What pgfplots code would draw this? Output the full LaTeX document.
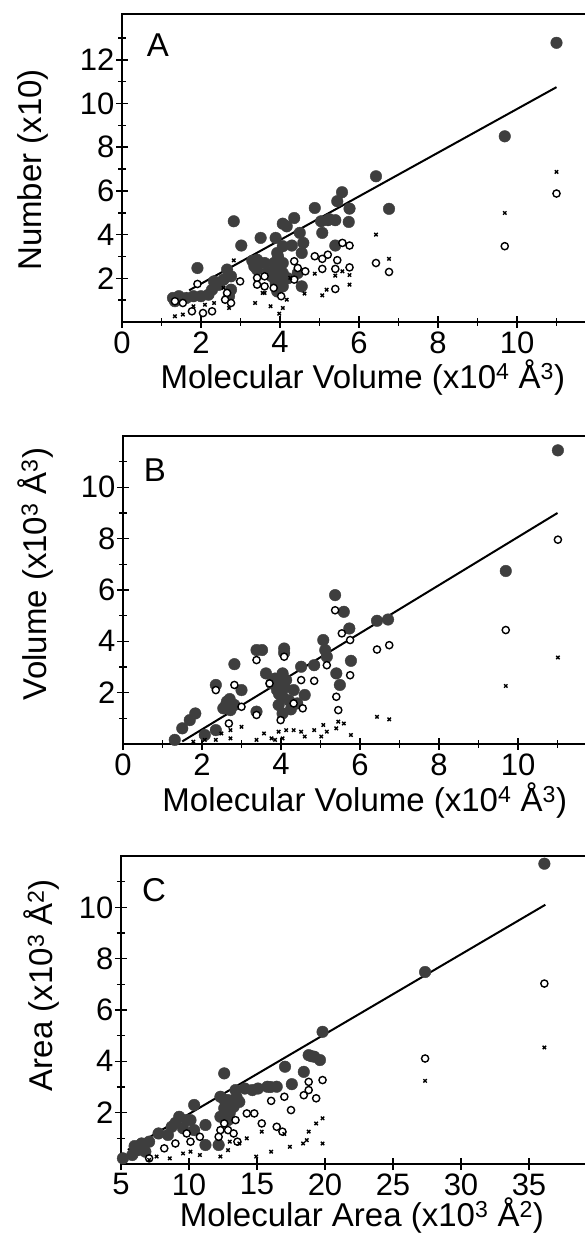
\documentclass[border=0pt]{standalone}
\usepackage{fontspec}
\setmainfont{Liberation Sans}
\usepackage{pgfplots}
\pgfplotsset{compat=1.18}
\definecolor{dot}{RGB}{62,62,62}
\newcommand{\lblfont}{\fontsize{33}{36}\selectfont}
\pgfplotsset{
  panel/.style={
    scale only axis, clip=false,
    axis line style={line width=1.8pt},
    tick style={line width=1.5pt, black},
    tick pos=left, tick align=center,
    major tick length=12pt, minor tick length=8pt,
    /pgf/number format/assume math mode=true,
    tick label style={font=\fontsize{31}{33}\selectfont},
    yticklabel style={xshift=2pt},
  },
  filled/.style={only marks, mark=*, mark size=5.8pt, mark options={fill=dot, draw=dot}},
  open/.style={only marks, mark=*, mark size=3.6pt, mark options={fill=white, draw=black, line width=1.4pt}},
  cross/.style={only marks, mark=x, mark size=2.4pt, mark options={line width=1.4pt, draw=black}},
  fit/.style={black, line width=2pt, no marks},
}
\begin{document}
\begin{tikzpicture}[x=1pt,y=1pt]
\path[use as bounding box] (0,0) rectangle (584,1236);
% ---------------- Panel A ----------------
\begin{axis}[panel, at={(122pt,914pt)}, anchor=south west,
  width=474pt, height=308pt,
  xmin=0, xmax=12, ymin=0, ymax=14.1,
  xtick={0,2,...,10}, minor xtick={1,3,...,11},
  ytick={2,4,...,12}, minor ytick={1,3,...,13},
  xlabel={Molecular Volume (x10\textsuperscript{4} Å\textsuperscript{3})},
  ylabel={Number (x10)},
  xlabel style={font=\lblfont, at={(axis description cs:0.508,-0.179)}, anchor=center},
  ylabel style={font=\lblfont, at={(axis description cs:-0.188,0.494)}, anchor=center, rotate=0},
]
\addplot[filled] coordinates {
(11.0,12.78) (9.69,8.5) (6.43,6.67) (6.76,5.18) (5.57,5.94) (5.45,5.53) (5.76,5.19) (5.74,4.58)
(4.88,5.22) (5.04,4.61) (5.21,4.66) (5.40,4.66) (5.07,4.08) (5.40,3.50) (4.36,4.76) (4.07,4.50)
(4.17,4.38) (3.89,3.85) (3.51,3.85) (3.02,3.50) (2.83,4.61) (4.50,4.08) (4.59,3.62) (4.55,3.16)
(4.07,3.47) (3.93,3.16) (4.07,2.70) (3.42,2.85) (3.61,2.70) (3.89,2.40) (4.07,2.24) (3.79,2.09)
(3.89,1.79) (4.07,1.63) (3.93,1.40) (4.45,2.24) (4.55,1.63) (3.42,2.40) (2.66,2.40) (2.76,2.09)
(2.57,1.94) (2.33,1.86) (2.28,1.48) (2.19,1.25) (1.91,2.47) (2.0,1.18) (1.81,1.18) (1.63,1.10)
(1.44,1.18) (1.29,1.10) (1.34,0.95) (2.71,1.18) (2.76,1.48) (3.30,2.80)
(3.95,3.0) (4.2,2.0) (3.7,2.3) (4.3,3.5) (3.35,2.55) (2.45,1.7) (4.0,1.9) (3.85,2.7) (5.25,4.7)
};
\addplot[open] coordinates {
(11.0,5.88) (9.69,3.47) (6.43,2.70) (6.76,2.29) (5.76,3.50) (5.58,3.62) (5.21,3.08) (5.07,2.89)
(4.88,3.01) (5.07,2.43) (5.40,2.43) (5.76,2.50) (5.45,2.83) (5.40,1.51) (4.64,2.32) (4.36,2.78)
(4.45,2.47) (4.36,1.94) (3.42,2.02) (3.42,1.71) (3.61,1.63) (3.84,1.56) (4.03,1.18) (2.99,1.86)
(2.66,1.33) (2.61,1.02) (2.76,0.87) (1.91,1.74) (2.05,0.41) (1.77,0.49) (1.54,0.87) (1.34,0.95)
(2.28,0.49) (3.61,2.09)
};
\addplot[cross] coordinates {
(11.0,6.87) (9.69,4.99) (6.43,4.0) (6.76,2.89) (2.83,2.82) (5.76,2.15) (5.76,1.71) (5.58,2.32)
(5.40,2.12) (4.88,2.21) (5.18,1.48) (5.07,1.22) (4.62,1.30) (4.17,1.02) (4.07,0.64) (3.98,0.38)
(3.76,0.72) (3.37,0.87) (3.56,1.33) (2.71,0.64) (2.33,0.87) (2.10,0.79) (1.81,0.72) (1.54,0.34)
(1.34,0.26) (4.26,2.02) (3.61,1.33) (2.57,1.56)
};
\addplot[fit] coordinates {(1.7,1.45) (11.0,10.75)};
\node[font=\lblfont] at (axis cs:0.91,12.69) {A};
\end{axis}
% ---------------- Panel B ----------------
\begin{axis}[panel, at={(123pt,492pt)}, anchor=south west,
  width=474pt, height=308pt,
  xmin=0, xmax=12, ymin=0, ymax=12,
  xtick={0,2,...,10}, minor xtick={1,3,...,11},
  ytick={2,4,...,10}, minor ytick={1,3,...,11},
  xlabel={Molecular Volume (x10\textsuperscript{4} Å\textsuperscript{3})},
  ylabel={Volume (x10\textsuperscript{3} Å\textsuperscript{3})},
  xlabel style={font=\lblfont, at={(axis description cs:0.51,-0.182)}, anchor=center},
  ylabel style={font=\lblfont, at={(axis description cs:-0.184,0.552)}, anchor=center, rotate=0},
]
\addplot[filled] coordinates {
(11.01,11.44) (9.69,6.74) (6.71,4.85) (6.43,4.80) (5.37,5.80) (5.59,5.15) (5.73,4.50) (5.77,3.24)
(5.40,2.75) (5.49,2.30) (5.07,4.05) (5.12,3.66) (5.16,3.40) (4.84,3.07) (4.51,3.01) (3.52,3.66)
(3.38,3.66) (4.08,3.72) (2.82,3.11) (3.00,2.10) (2.35,2.30) (3.62,2.75) (3.76,2.36) (4.04,2.75)
(4.13,2.49) (3.90,2.10) (4.04,1.84) (3.94,1.52) (4.04,1.19) (4.32,2.10) (4.60,1.91) (4.41,1.58)
(2.63,1.65) (2.72,1.32) (2.54,1.39) (2.82,1.52) (3.38,1.26) (2.35,0.54) (2.07,0.35) (1.83,1.19)
(1.69,0.93) (1.50,0.61) (1.31,0.16)
(4.0,2.3) (3.95,1.95) (4.2,1.7) (4.1,2.2) (3.85,2.55) (4.25,1.35) (2.7,1.75) (2.6,1.5) (4.08,3.55)
};
\addplot[open] coordinates {
(11.01,7.96) (9.69,4.44) (6.43,3.68) (6.74,3.85) (5.37,5.21) (5.54,4.31) (5.75,4.05) (5.75,2.68)
(5.40,1.84) (5.45,1.32) (5.16,3.07) (4.84,2.46) (4.51,2.49) (4.55,1.39) (4.32,1.58) (3.99,0.93)
(3.38,3.27) (2.82,2.30) (3.00,1.45) (3.38,1.13) (2.35,2.10) (3.71,2.36) (4.08,3.40) (2.68,0.80)
};
\addplot[cross] coordinates {
(11.01,3.37) (9.69,2.26) (6.43,1.06) (6.74,0.96) (3.0,0.67) (2.72,0.54) (2.72,0.22) (2.35,0.16)
(2.07,0.16) (1.78,0.09) (3.38,0.16) (3.57,0.41) (3.76,0.22) (3.94,0.48) (4.13,0.54) (4.32,0.54)
(4.51,0.48) (4.60,0.29) (4.84,0.54) (5.02,0.29) (5.16,0.48) (5.07,0.74) (5.40,0.61) (5.45,0.87)
(5.59,0.80) (5.77,0.35) (4.04,0.22) (3.85,0.16) (2.49,0.41)
};
\addplot[fit] coordinates {(1.5,0.1) (11.0,9.0)};
\node[font=\lblfont] at (axis cs:0.81,10.66) {B};
\end{axis}
% ---------------- Panel C ----------------
\begin{axis}[panel, at={(121pt,72pt)}, anchor=south west,
  width=476pt, height=308pt,
  xmin=5, xmax=40, ymin=0, ymax=12,
  xtick={5,10,...,35},
  ytick={2,4,...,10}, minor ytick={1,3,...,11},
  xlabel={Molecular Area (x10\textsuperscript{3} Å\textsuperscript{2})},
  ylabel={Area (x10\textsuperscript{3} Å\textsuperscript{2})},
  xlabel style={font=\lblfont, inner sep=0pt, at={(axis description cs:0.506,-0.226)}, anchor=south},
  ylabel style={font=\lblfont, at={(axis description cs:-0.166,0.581)}, anchor=center, rotate=0},
]
\addplot[filled] coordinates {
(36.13,11.70) (27.36,7.48) (19.82,5.15) (19.63,4.05) (19.21,4.18) (18.80,4.24) (18.44,3.59) (17.56,3.11)
(17.06,3.79) (16.45,3.01) (15.76,3.01) (15.07,2.94) (14.66,2.88) (14.11,2.94) (13.42,2.88) (12.59,3.53)
(12.31,2.62) (12.87,2.49) (13.28,2.23) (12.59,2.17) (12.31,1.84) (12.87,1.71) (10.38,2.30) (11.21,1.52)
(9.83,1.71) (9.28,1.84) (8.73,1.45) (9.56,1.39) (10.38,1.32) (8.45,1.13) (7.76,1.19) (7.07,0.87)
(6.52,0.80) (6.24,0.54) (5.83,0.35) (5.14,0.22) (6.79,0.48) (11.21,0.74) (12.18,0.74) (10.11,1.71)
(13.7,2.42) (12.6,2.5) (13.0,2.0) (13.5,2.6) (9.0,1.6) (6.0,0.7) (16.0,3.0) (19.0,4.2)
};
\addplot[open] coordinates {
(36.13,7.03) (27.36,4.11) (19.82,3.27) (18.80,3.20) (18.80,2.88) (18.44,2.68) (19.35,2.56) (17.01,2.62)
(17.50,2.10) (16.04,2.46) (15.35,1.58) (16.45,1.45) (16.87,1.26) (14.25,1.97) (14.80,1.97) (13.42,1.71)
(12.59,1.58) (12.31,1.32) (12.87,1.32) (13.28,1.19) (12.18,1.06) (13.56,0.87) (10.80,1.06) (9.83,1.19)
(9.0,0.80) (10.11,0.87) (7.07,0.22) (8.18,0.61)
};
\addplot[cross] coordinates {
(36.13,4.54) (27.36,3.24) (19.82,0.80) (19.82,1.78) (19.35,1.58) (18.80,1.26) (18.66,0.93) (18.39,0.80)
(17.42,0.67) (17.01,1.17) (16.04,0.48) (15.35,1.26) (14.94,0.29) (14.25,1.00) (13.70,0.80) (12.87,0.54)
(12.31,0.29) (10.80,0.35) (10.11,0.48) (9.56,0.41) (8.59,0.22) (7.62,0.29) (7.07,0.16) (13.0,0.87)
};
\addplot[fit] coordinates {(5.5,0.55) (36.2,10.1)};
\node[font=\lblfont] at (axis cs:7.43,10.66) {C};
\end{axis}
\end{tikzpicture}
\end{document}
